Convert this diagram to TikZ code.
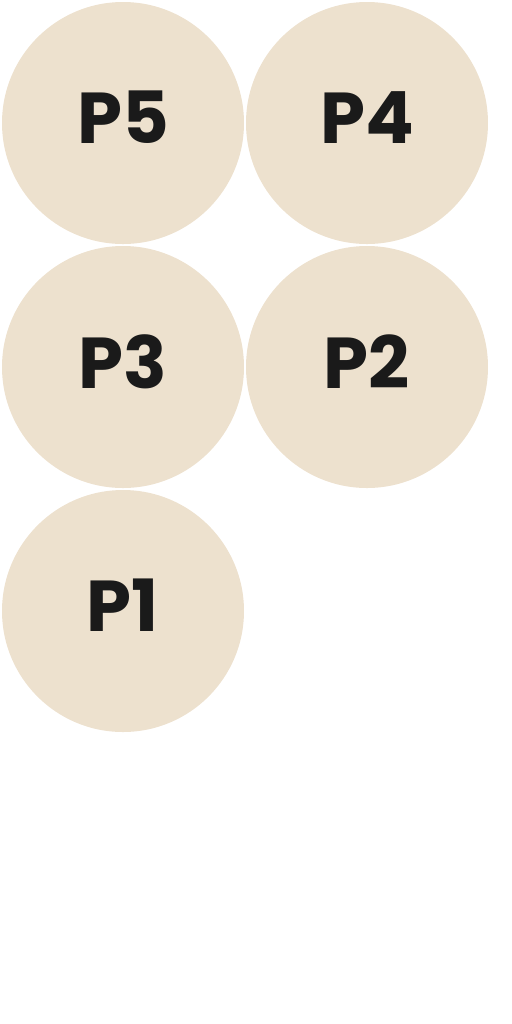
\documentclass[tikz,border=0pt]{standalone}
\usepackage{fontspec}
\setmainfont{Poppins}[BoldFont=* Bold]
\usepackage{tikz}
\usetikzlibrary{shapes.geometric}
\usepackage{xcolor}
\definecolor{sandBeige}{RGB}{237, 225, 206}
\definecolor{inkBlack}{RGB}{26, 26, 26}

\begin{document}
\begin{tikzpicture}
    [
        node distance=4.88cm,
        pile/.style={
            circle, fill=sandBeige, minimum size=4.84cm, inner sep=0pt,
            text=inkBlack, font=\fontsize{41}{41}\selectfont\bfseries,
            text depth=0.22cm, align=center
        }
    ]

\useasboundingbox (0,0) rectangle (10.24,-20.48);

% Nodes
\node (p5) [pile] at (2.46,-2.46) {P5};

\node (p4) [
		pile, right of=p5,
    ] {P4};

\node (p3) [
		pile, below of=p5,
	] {P3};

\node (p2) [
		pile, right of=p3,
	] {P2};

\node (p1) [
		pile, below of=p3,
	] {P1};

\end{tikzpicture}
\end{document}
